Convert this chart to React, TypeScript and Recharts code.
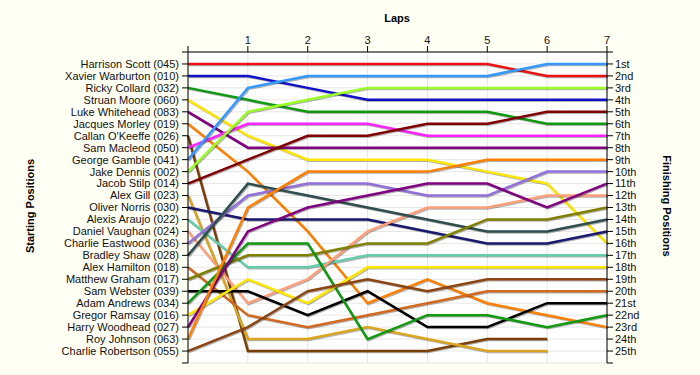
import React from 'react';
import { LineChart, Line, XAxis, YAxis, CartesianGrid } from 'recharts';

// laps on the x axis (0 = grid)
const laps = [0, 1, 2, 3, 4, 5, 6, 7];

// drivers in starting order
const drivers = [
  'Harrison Scott (045)',
  'Xavier Warburton (010)',
  'Ricky Collard (032)',
  'Struan Moore (060)',
  'Luke Whitehead (083)',
  'Jacques Morley (019)',
  "Callan O'Keeffe (026)",
  'Sam Macleod (050)',
  'George Gamble (041)',
  'Jake Dennis (002)',
  'Jacob Stilp (014)',
  'Alex Gill (023)',
  'Oliver Norris (030)',
  'Alexis Araujo (022)',
  'Daniel Vaughan (024)',
  'Charlie Eastwood (036)',
  'Bradley Shaw (028)',
  'Alex Hamilton (018)',
  'Matthew Graham (017)',
  'Sam Webster (039)',
  'Adam Andrews (034)',
  'Gregor Ramsay (016)',
  'Harry Woodhead (027)',
  'Roy Johnson (063)',
  'Charlie Robertson (055)',
];

const finishLabels = [
  '1st', '2nd', '3rd', '4th', '5th', '6th', '7th', '8th', '9th', '10th',
  '11th', '12th', '13th', '14th', '15th', '16th', '17th', '18th', '19th', '20th',
  '21st', '22nd', '23rd', '24th', '25th',
];

// position of each driver at laps 0..7 (null = retired)
const positions: (number | null)[][] = [
  [1, 1, 1, 1, 1, 1, 2, 2],
  [2, 2, 3, 4, 4, 4, 4, 4],
  [3, 4, 5, 5, 5, 5, 6, 6],
  [4, 7, 9, 9, 9, 10, 11, 16],
  [5, 8, 8, 8, 8, 8, 8, 8],
  [6, 10, 15, 21, 19, 21, 22, 23],
  [7, 25, 25, 25, 25, 24, 24, null],
  [8, 6, 6, 6, 7, 7, 7, 7],
  [9, 3, 2, 2, 2, 2, 1, 1],
  [10, 5, 4, 3, 3, 3, 3, 3],
  [11, 9, 7, 7, 6, 6, 5, 5],
  [12, 24, 24, 23, 24, 25, 25, null],
  [13, 14, 14, 14, 15, 16, 16, 15],
  [14, 18, 18, 17, 17, 17, 17, 17],
  [15, 21, 19, 15, 13, 13, 12, 12],
  [16, 12, 11, 11, 12, 12, 10, 10],
  [17, 11, 12, 13, 14, 15, 15, 14],
  [18, 22, 23, 22, 21, 20, 20, 20],
  [19, 17, 17, 16, 16, 14, 14, 13],
  [20, 20, 22, 20, 23, 23, 21, 21],
  [21, 16, 16, 24, 22, 22, 23, 22],
  [22, 19, 21, 18, 18, 18, 18, 18],
  [23, 15, 13, 12, 11, 11, 13, 11],
  [24, 13, 10, 10, 10, 9, 9, 9],
  [25, 23, 20, 19, 20, 19, 19, 19],
];

const colors = [
  '#ee1111', '#1111cc', '#119911', '#ffe600', '#800080',
  '#ff8000', '#7a3e08', '#ff22ff', '#3399ff', '#99ff22',
  '#800000', '#daa520', '#191970', '#66cdaa', '#ffa07a',
  '#9370db', '#2f4f4f', '#d2691e', '#808000', '#000000',
  '#119911', '#ffe600', '#800080', '#ff8000', '#8b4513',
];

const data = laps.map((lap, i) => {
  const row: Record<string, number | null> = { lap };
  positions.forEach((p, d) => {
    row['d' + d] = p[i];
  });
  return row;
});

const posTicks = Array.from({ length: 27 }, (_, i) => i);
const tickStyle = { fontSize: 11, fill: '#111', fontFamily: '"Liberation Sans", Arial, sans-serif' };
const titleStyle: React.CSSProperties = {
  position: 'absolute',
  fontFamily: '"Liberation Sans", Arial, sans-serif',
  fontSize: 11,
  fontWeight: 'bold',
  color: '#000',
  whiteSpace: 'nowrap',
};

export default function App() {
  return (
    <div style={{ position: 'absolute', left: 0, top: 0, width: 700, height: 375, background: '#fffff3' }}>
      <LineChart width={700} height={375} data={data} margin={{ top: 0, right: 0, bottom: 12, left: 0 }}>
        <CartesianGrid yAxisId="left" stroke="#e6e6e6" fill="#ffffff" />
        <XAxis
          dataKey="lap"
          type="number"
          orientation="top"
          domain={[0, 7]}
          ticks={laps}
          interval={0}
          height={52}
          tickSize={6}
          tickMargin={2}
          stroke="#000"
          tick={tickStyle}
          tickFormatter={(v: number) => (v === 0 ? '' : String(v))}
        />
        <YAxis
          yAxisId="left"
          type="number"
          domain={[0, 26]}
          reversed
          ticks={posTicks}
          interval={0}
          width={188}
          tickSize={6}
          tickMargin={3}
          stroke="#000"
          tick={tickStyle}
          tickFormatter={(v: number) => drivers[v - 1] ?? ''}
        />
        <YAxis
          yAxisId="right"
          orientation="right"
          type="number"
          domain={[0, 26]}
          reversed
          ticks={posTicks}
          interval={0}
          width={93}
          tickSize={6}
          tickMargin={2}
          stroke="#000"
          tick={tickStyle}
          tickFormatter={(v: number) => finishLabels[v - 1] ?? ''}
        />
        {drivers.map((name, d) => (
          <Line
            key={name}
            yAxisId={d % 2 === 0 ? 'left' : 'right'}
            type="linear"
            dataKey={'d' + d}
            name={name}
            stroke={colors[d]}
            strokeWidth={2.5}
            dot={false}
            activeDot={false}
            isAnimationActive={false}
            style={{ filter: 'drop-shadow(1px 1.5px 0px rgba(0,0,0,0.3))' }}
          />
        ))}
      </LineChart>
      <div style={{ ...titleStyle, left: 397, top: 18, transform: 'translate(-50%, -50%)' }}>Laps</div>
      <div style={{ ...titleStyle, left: 30, top: 206, transform: 'translate(-50%, -50%) rotate(-90deg)' }}>
        Starting Positions
      </div>
      <div style={{ ...titleStyle, left: 667, top: 206, transform: 'translate(-50%, -50%) rotate(90deg)' }}>
        Finishing Positions
      </div>
    </div>
  );
}
